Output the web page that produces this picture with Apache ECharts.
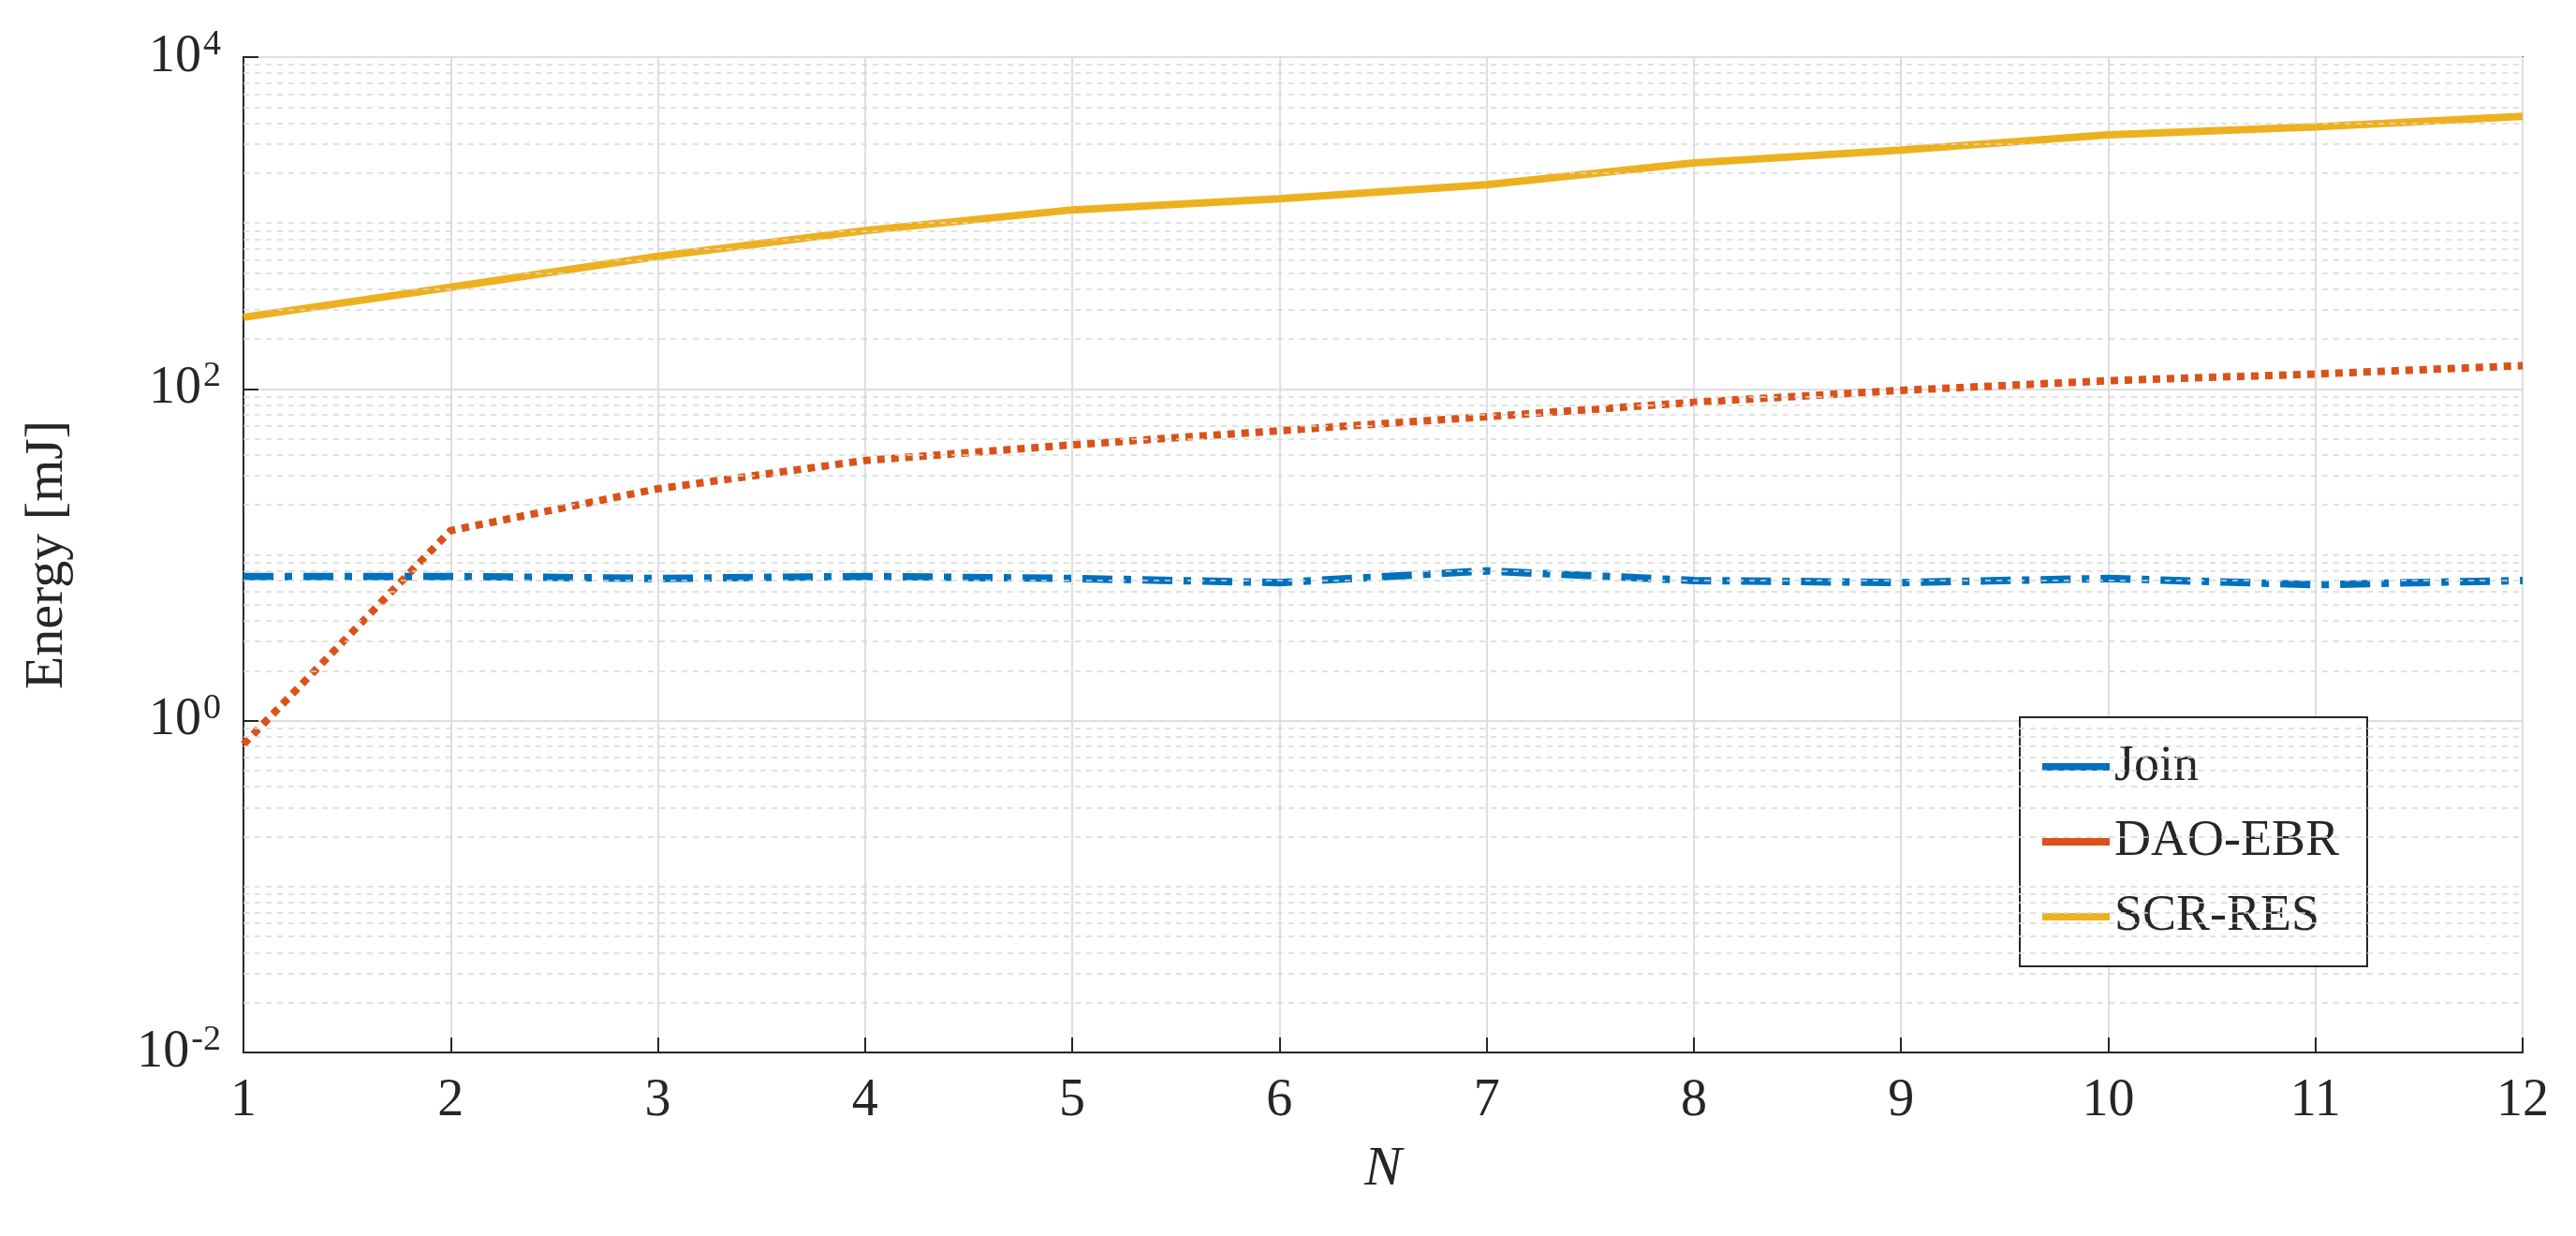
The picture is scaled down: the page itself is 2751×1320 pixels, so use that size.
<!DOCTYPE html>
<html>
<head>
<meta charset="utf-8">
<script src="https://cdn.jsdelivr.net/npm/echarts@6/dist/echarts.min.js"></script>
<style>html,body{margin:0;padding:0;background:#fff}#chart{width:2751px;height:1320px}</style>
</head>
<body>
<div id="chart"></div>
<script>
var nValues = [1,2,3,4,5,6,7,8,9,10,11,12];
var joinData = [7.4,7.4,7.2,7.4,7.2,6.8,8.0,7.0,6.8,7.2,6.6,7.0];
var daoData = [0.72,14,25,37,46,56,68,83,98,112,123,138];
var scrData = [270,410,630,900,1200,1400,1700,2300,2750,3400,3800,4400];
var yTickLabels = {'0.01':'-2','1':'0','100':'2','10000':'4'};

function pairs(arr){
    var out = [];
    for(var i=0;i<arr.length;i++){ out.push([nValues[i], arr[i]]); }
    return out;
}
// minor grid lines 2..9 per decade, plus the odd decades
var minorLines = [];
[0.01,0.1,1,10,100,1000].forEach(function(d){
    for(var k=2;k<10;k++){ minorLines.push({yAxis: d*k}); }
});
[0.1,10,1000].forEach(function(d){ minorLines.push({yAxis:d}); });

var font = 'Liberation Serif';
var chart = echarts.init(document.getElementById('chart'));
chart.setOption({
    animation:false,
    grid:{left:260,right:57,top:61,bottom:196,show:true,borderColor:'#262626',borderWidth:2},
    xAxis:{
        type:'value',min:1,max:12,interval:1,
        name:'N',nameLocation:'middle',nameGap:95,
        nameTextStyle:{fontFamily:font,fontStyle:'italic',fontSize:60,color:'#262626'},
        axisLine:{lineStyle:{color:'#262626',width:2}},
        axisTick:{inside:true,length:16,lineStyle:{color:'#262626',width:2}},
        axisLabel:{fontFamily:font,fontSize:56,color:'#262626',margin:24},
        splitLine:{show:true,lineStyle:{color:'#dedede',width:2}}
    },
    yAxis:{
        type:'log',logBase:10,min:0.01,max:10000,interval:2,
        name:'Energy [mJ]',nameLocation:'middle',nameGap:180,
        nameTextStyle:{fontFamily:font,fontSize:58,color:'#262626'},
        axisLine:{lineStyle:{color:'#262626',width:2}},
        axisTick:{inside:true,length:16,lineStyle:{color:'#262626',width:2}},
        axisLabel:{
            margin:24,
            formatter:function(v){
                var e = yTickLabels[String(+v.toPrecision(6))];
                return e === undefined ? '' : '{b|10}{s|'+e+'}';
            },
            rich:{
                b:{fontFamily:font,fontSize:56,color:'#262626'},
                s:{fontFamily:font,fontSize:38,color:'#262626',verticalAlign:'top',padding:[0,0,26,2]}
            }
        },
        splitLine:{show:true,lineStyle:{color:'#dedede',width:2}}
    },
    legend:{
        orient:'vertical',left:2157,top:766,width:483,
        padding:[26,30,26,24],itemGap:26,itemWidth:72,itemHeight:8,icon:'rect',
        backgroundColor:'#fff',borderColor:'#262626',borderWidth:2,
        textStyle:{fontFamily:font,fontSize:54,color:'#262626'},
        data:['Join','DAO-EBR','SCR-RES']
    },
    series:[
        {type:'line',name:'minor',data:[],silent:true,
         markLine:{silent:true,symbol:'none',label:{show:false},
            lineStyle:{color:'#d8d8d8',type:[6,6],width:1.5},data:minorLines}},
        {type:'line',name:'Join',data:pairs(joinData),showSymbol:false,
         lineStyle:{color:'#0072BD',width:8,type:[32,12,8,12]},itemStyle:{color:'#0072BD'}},
        {type:'line',name:'DAO-EBR',data:pairs(daoData),showSymbol:false,
         lineStyle:{color:'#D95319',width:8,type:[8,7]},itemStyle:{color:'#D95319'}},
        {type:'line',name:'SCR-RES',data:pairs(scrData),showSymbol:false,
         lineStyle:{color:'#EDB120',width:8},itemStyle:{color:'#EDB120'}}
    ]
});
</script>
</body>
</html>
